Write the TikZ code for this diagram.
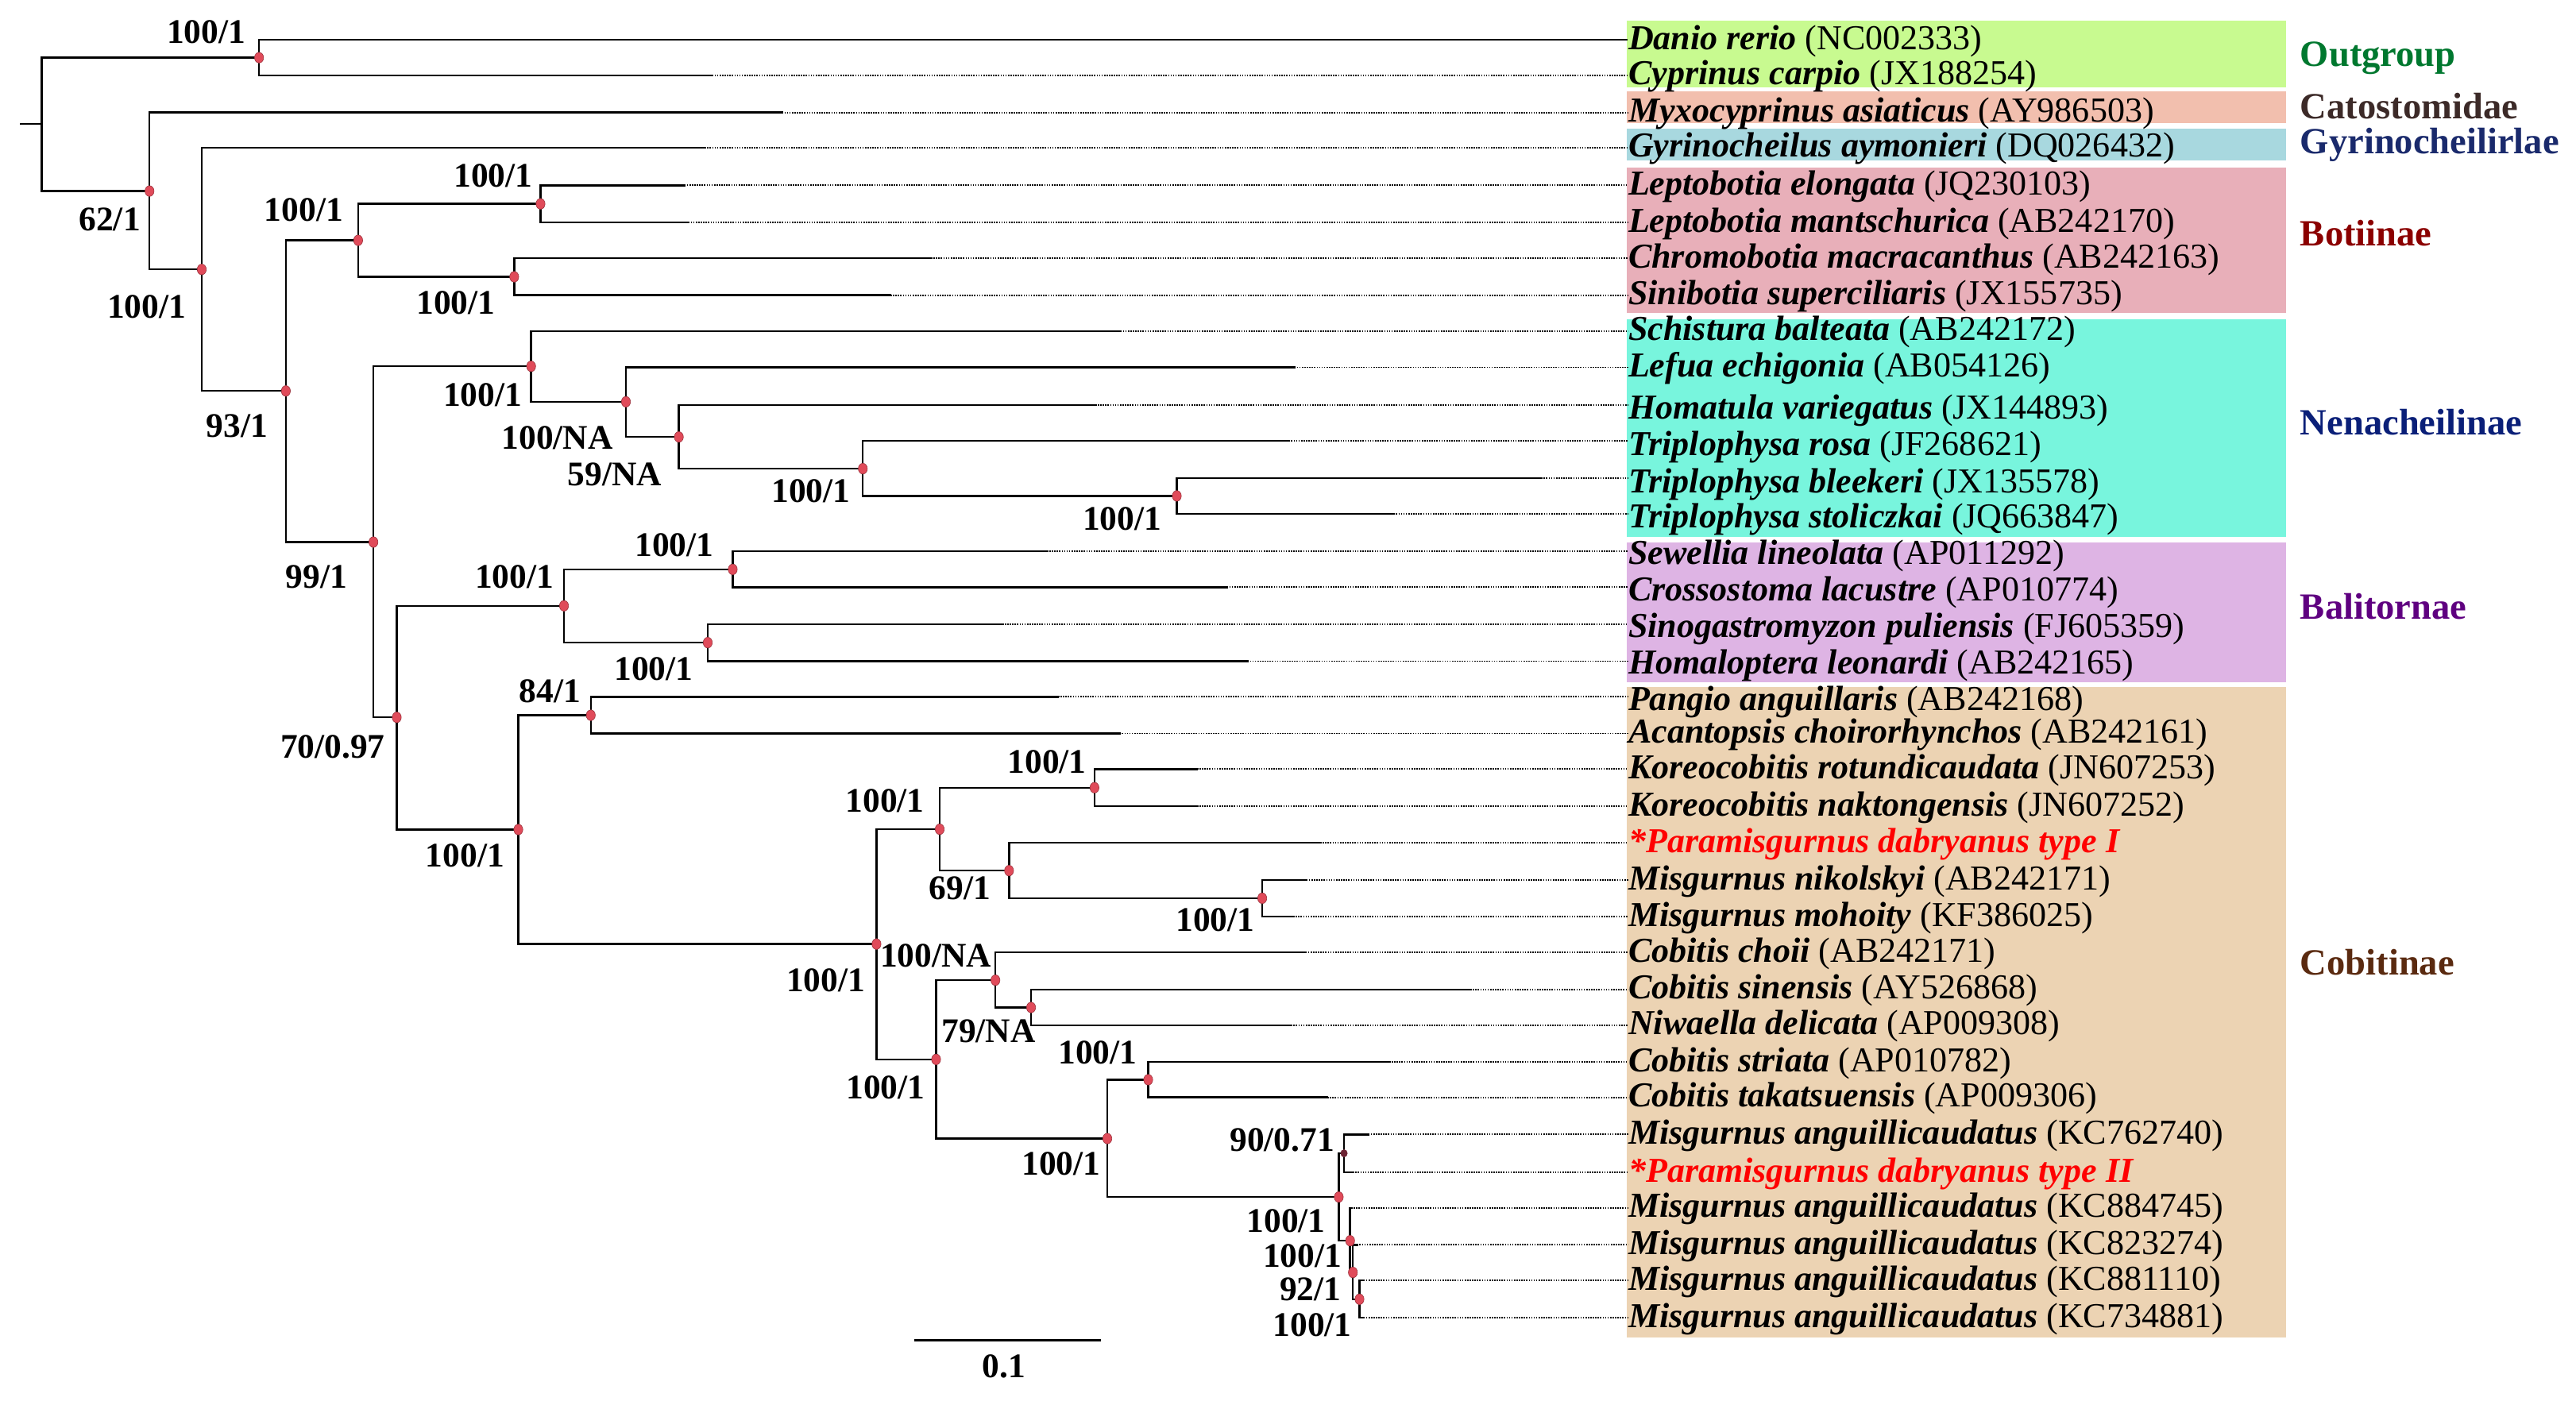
\documentclass[tikz,border=0pt]{standalone}
\usepackage{fontspec}
\usetikzlibrary{shapes.geometric}
\setmainfont{Liberation Serif}
\definecolor{fOut}{RGB}{200,250,144}
\definecolor{fCat}{RGB}{242,191,174}
\definecolor{fGyr}{RGB}{168,216,223}
\definecolor{fBot}{RGB}{232,175,185}
\definecolor{fNen}{RGB}{120,245,221}
\definecolor{fBal}{RGB}{222,180,228}
\definecolor{fCob}{RGB}{236,211,179}
\definecolor{cOut}{RGB}{0,120,47}
\definecolor{cCat}{RGB}{60,42,40}
\definecolor{cGyr}{RGB}{26,42,108}
\definecolor{cBot}{RGB}{139,0,0}
\definecolor{cNen}{RGB}{10,31,120}
\definecolor{cBal}{RGB}{95,0,128}
\definecolor{cCob}{RGB}{90,42,16}
\definecolor{dotred}{RGB}{224,75,90}
\definecolor{dotdark}{RGB}{107,35,51}
\begin{document}
\begin{tikzpicture}[x=1pt,y=-1pt,
  branch/.style={black,line width=1.2pt,line cap=rect},
  guide/.style={black,line width=0.9pt,dash pattern=on 0.8pt off 0.7pt},
  dotnode/.style={ellipse,fill=dotred,draw=dotred!70!black,line width=0.3pt,inner sep=0pt,minimum width=5.5pt,minimum height=6.5pt},
  sup/.style={inner sep=0pt,font=\fontsize{21}{24}\selectfont\bfseries},
  taxon/.style={anchor=west,inner sep=0pt,font=\fontsize{21.3}{24}\selectfont},
  grp/.style={anchor=west,inner sep=0pt,font=\fontsize{22.5}{26}\selectfont\bfseries}]
\useasboundingbox (0,0) rectangle (1568,855);
% colour bands
\fill[fOut] (990.2,12.6) rectangle (1391.6,53.2);
\fill[fCat] (990.2,55.8) rectangle (1391.6,74.8);
\fill[fGyr] (990.2,78.5) rectangle (1391.6,97.5);
\fill[fBot] (990.2,102.2) rectangle (1391.6,190.7);
\fill[fNen] (990.2,194.2) rectangle (1391.6,326.9);
\fill[fBal] (990.2,330.4) rectangle (1391.6,415.5);
\fill[fCob] (990.2,418) rectangle (1391.6,814);
% internal nodes
\coordinate (stub) at (12.9,75.3);
\coordinate (root) at (25.4,75.3);
\coordinate (nOut) at (157.7,35.1);
\coordinate (n62) at (91,116.3);
\coordinate (nA) at (122.8,164);
\coordinate (n93) at (174,238);
\coordinate (nBot) at (218,146.3);
\coordinate (nLep) at (329,124.1);
\coordinate (nChr) at (313,168.5);
\coordinate (n99) at (227.3,330);
\coordinate (nNen) at (323.3,223);
\coordinate (nNAa) at (381,244.6);
\coordinate (n59) at (413.2,266);
\coordinate (nTri) at (525.2,285.3);
\coordinate (nTrb) at (716.3,301.9);
\coordinate (n70) at (241.5,436.7);
\coordinate (nBal) at (343.3,368.8);
\coordinate (nSew) at (446,346.6);
\coordinate (nSin) at (430.8,391.2);
\coordinate (nCob) at (315.5,505);
\coordinate (n84) at (359.6,435.4);
\coordinate (nCb) at (533.5,574.7);
\coordinate (nKM) at (572,504.8);
\coordinate (nKor) at (666.2,479.5);
\coordinate (n69) at (614.2,530);
\coordinate (nMis) at (768.3,546.8);
\coordinate (nNAb) at (605.9,596.7);
\coordinate (n79) at (627.6,613.3);
\coordinate (nCc) at (569.8,644.9);
\coordinate (nStr) at (698.9,657.3);
\coordinate (nCM) at (674,693.1);
\coordinate (nMA) at (814.9,728.7);
\coordinate (nMB) at (818.1,702.1);
\coordinate (nMC) at (821.8,755.3);
\coordinate (nMD) at (823.5,774.6);
\coordinate (nME) at (827.5,790.9);
% leaf ends of solid branches
\coordinate (s1) at (990,24.2);
\coordinate (s2) at (433.5,45.9);
\coordinate (s3) at (476,68.5);
\coordinate (s4) at (429,89.9);
\coordinate (s5) at (416.6,112.8);
\coordinate (s6) at (419,135.4);
\coordinate (s7) at (566.7,157.2);
\coordinate (s8) at (542,179.7);
\coordinate (s9) at (682,201.5);
\coordinate (s10) at (787.9,223.6);
\coordinate (s11) at (666.7,246.6);
\coordinate (s12) at (784.4,268.4);
\coordinate (s13) at (938.1,291);
\coordinate (s14) at (848.2,312.7);
\coordinate (s15) at (637.2,335.6);
\coordinate (s16) at (746.8,357.5);
\coordinate (s17) at (610.1,379.9);
\coordinate (s18) at (759.3,402.5);
\coordinate (s19) at (644,424.2);
\coordinate (s20) at (681.4,446.5);
\coordinate (s21) at (728.6,468.2);
\coordinate (s22) at (728.6,490.8);
\coordinate (s23) at (803.6,512.9);
\coordinate (s24) at (795.2,535.6);
\coordinate (s25) at (787.2,558);
\coordinate (s26) at (794.7,579.8);
\coordinate (s27) at (895,602.5);
\coordinate (s28) at (785.8,624.1);
\coordinate (s29) at (845.6,646.5);
\coordinate (s30) at (808,668);
\coordinate (s31) at (832.9,690.6);
\coordinate (s32) at (823.5,713.6);
\coordinate (s33) at (822.5,735.3);
\coordinate (s34) at (826,757.8);
\coordinate (s35) at (830,779.5);
\coordinate (s36) at (830,802.2);
% taxon labels
\node[taxon] (L1) at (991,24.9) {\textbf{\textit{Danio rerio}} (NC002333)};
\node[taxon] (L2) at (991,46.6) {\textbf{\textit{Cyprinus carpio}} (JX188254)};
\node[taxon] (L3) at (991,69.2) {\textbf{\textit{Myxocyprinus asiaticus}} (AY986503)};
\node[taxon] (L4) at (991,90.6) {\textbf{\textit{Gyrinocheilus aymonieri}} (DQ026432)};
\node[taxon] (L5) at (991,113.5) {\textbf{\textit{Leptobotia elongata}} (JQ230103)};
\node[taxon] (L6) at (991,136.1) {\textbf{\textit{Leptobotia mantschurica}} (AB242170)};
\node[taxon] (L7) at (991,157.9) {\textbf{\textit{Chromobotia macracanthus}} (AB242163)};
\node[taxon] (L8) at (991,180.4) {\textbf{\textit{Sinibotia superciliaris}} (JX155735)};
\node[taxon] (L9) at (991,202.2) {\textbf{\textit{Schistura balteata}} (AB242172)};
\node[taxon] (L10) at (991,224.3) {\textbf{\textit{Lefua echigonia}} (AB054126)};
\node[taxon] (L11) at (991,250) {\textbf{\textit{Homatula variegatus}} (JX144893)};
\node[taxon] (L12) at (991,272) {\textbf{\textit{Triplophysa rosa}} (JF268621)};
\node[taxon] (L13) at (991,295) {\textbf{\textit{Triplophysa bleekeri}} (JX135578)};
\node[taxon] (L14) at (991,316.2) {\textbf{\textit{Triplophysa stoliczkai}} (JQ663847)};
\node[taxon] (L15) at (991,338.5) {\textbf{\textit{Sewellia lineolata}} (AP011292)};
\node[taxon] (L16) at (991,360.5) {\textbf{\textit{Crossostoma lacustre}} (AP010774)};
\node[taxon] (L17) at (991,383) {\textbf{\textit{Sinogastromyzon puliensis}} (FJ605359)};
\node[taxon] (L18) at (991,405) {\textbf{\textit{Homaloptera leonardi}} (AB242165)};
\node[taxon] (L19) at (991,427.5) {\textbf{\textit{Pangio anguillaris}} (AB242168)};
\node[taxon] (L20) at (991,447) {\textbf{\textit{Acantopsis choirorhynchos}} (AB242161)};
\node[taxon] (L21) at (991,469) {\textbf{\textit{Koreocobitis rotundicaudata}} (JN607253)};
\node[taxon] (L22) at (991,491.5) {\textbf{\textit{Koreocobitis naktongensis}} (JN607252)};
\node[taxon,text=red] (L23) at (991,514) {\textbf{\textit{*Paramisgurnus dabryanus type I}}};
\node[taxon] (L24) at (991,536.5) {\textbf{\textit{Misgurnus nikolskyi}} (AB242171)};
\node[taxon] (L25) at (991,559) {\textbf{\textit{Misgurnus mohoity}} (KF386025)};
\node[taxon] (L26) at (991,580.5) {\textbf{\textit{Cobitis choii}} (AB242171)};
\node[taxon] (L27) at (991,603) {\textbf{\textit{Cobitis sinensis}} (AY526868)};
\node[taxon] (L28) at (991,624.8) {\textbf{\textit{Niwaella delicata}} (AP009308)};
\node[taxon] (L29) at (991,647.2) {\textbf{\textit{Cobitis striata}} (AP010782)};
\node[taxon] (L30) at (991,668.7) {\textbf{\textit{Cobitis takatsuensis}} (AP009306)};
\node[taxon] (L31) at (991,691.3) {\textbf{\textit{Misgurnus anguillicaudatus}} (KC762740)};
\node[taxon,text=red] (L32) at (991,714.5) {\textbf{\textit{*Paramisgurnus dabryanus type II}}};
\node[taxon] (L33) at (991,736) {\textbf{\textit{Misgurnus anguillicaudatus}} (KC884745)};
\node[taxon] (L34) at (991,758.5) {\textbf{\textit{Misgurnus anguillicaudatus}} (KC823274)};
\node[taxon] (L35) at (991,780.2) {\textbf{\textit{Misgurnus anguillicaudatus}} (KC881110)};
\node[taxon] (L36) at (991,802.9) {\textbf{\textit{Misgurnus anguillicaudatus}} (KC734881)};
% group labels
\node[grp,text=cOut] (gOut) at (1400,35.5) {Outgroup};
\node[grp,text=cCat] (gCat) at (1400,64.5) {Catostomidae};
\node[grp,text=cGyr] (gGyr) at (1400,88) {Gyrinocheilirlae};
\node[grp,text=cBot] (gBot) at (1400,141.9) {Botiinae};
\node[grp,text=cNen] (gNen) at (1400,257) {Nenacheilinae};
\node[grp,text=cBal] (gBal) at (1400,369) {Balitornae};
\node[grp,text=cCob] (gCob) at (1400,586) {Cobitinae};
% dotted guides
\foreach \i in {2,...,36} \draw[guide] (s\i) -- (s\i -| L\i.west);
% branches
\draw[branch] (stub) -- (root);
\foreach \p/\c in {root/nOut,root/n62,nOut/s1,nOut/s2,n62/s3,n62/nA,nA/s4,nA/n93,
  n93/nBot,n93/n99,nBot/nLep,nBot/nChr,nLep/s5,nLep/s6,nChr/s7,nChr/s8,
  n99/nNen,n99/n70,nNen/s9,nNen/nNAa,nNAa/s10,nNAa/n59,n59/s11,n59/nTri,
  nTri/s12,nTri/nTrb,nTrb/s13,nTrb/s14,n70/nBal,n70/nCob,nBal/nSew,nBal/nSin,
  nSew/s15,nSew/s16,nSin/s17,nSin/s18,nCob/n84,nCob/nCb,n84/s19,n84/s20,
  nCb/nKM,nCb/nCc,nKM/nKor,nKM/n69,nKor/s21,nKor/s22,n69/s23,n69/nMis,
  nMis/s24,nMis/s25,nCc/nNAb,nCc/nCM,nNAb/s26,nNAb/n79,n79/s27,n79/s28,
  nCM/nStr,nCM/nMA,nStr/s29,nStr/s30,nMA/nMB,nMA/nMC,nMB/s31,nMB/s32,
  nMC/s33,nMC/nMD,nMD/s34,nMD/nME,nME/s35,nME/s36}
  \draw[branch] (\p) |- (\c);
% node dots
\foreach \n in {nOut,n62,nA,n93,nBot,nLep,nChr,n99,nNen,nNAa,n59,nTri,nTrb,n70,
  nBal,nSew,nSin,nCob,n84,nCb,nKM,nKor,n69,nMis,nNAb,n79,nCc,nStr,nCM,nMA,nMC,nMD,nME}
  \node[dotnode] (d\n) at (\n) {};
\node[dotnode,fill=dotdark,draw=dotdark,minimum width=4pt,minimum height=4.5pt] (dnMB) at (nMB) {};
% support values
\node[sup] (vOut) at (125.5,19.7) {100/1};
\node[sup] (v62) at (66.8,133.5) {62/1};
\node[sup] (vA) at (89.2,186.7) {100/1};
\node[sup] (v93) at (144.2,259.3) {93/1};
\node[sup] (vBot) at (184.9,127.8) {100/1};
\node[sup] (vLep) at (300.2,107.2) {100/1};
\node[sup] (vChr) at (277.5,184.2) {100/1};
\node[sup] (v99) at (192.7,351.2) {99/1};
\node[sup] (vNen) at (293.8,240.2) {100/1};
\node[sup] (vNAa) at (339.2,266.5) {100/NA};
\node[sup] (v59) at (374.2,288.9) {59/NA};
\node[sup] (vTri) at (493.6,298.9) {100/1};
\node[sup] (vTrb) at (683,316) {100/1};
\node[sup] (v70) at (202.5,454.5) {70/0.97};
\node[sup] (vBal) at (313.1,351.2) {100/1};
\node[sup] (vSew) at (410.5,331.8) {100/1};
\node[sup] (vSin) at (397.9,407.1) {100/1};
\node[sup] (vCob) at (283,521) {100/1};
\node[sup] (v84) at (334.8,420.6) {84/1};
\node[sup] (vKor) at (637.3,463.9) {100/1};
\node[sup] (vKM) at (538.7,487.6) {100/1};
\node[sup] (v69) at (584.3,540.8) {69/1};
\node[sup] (vMis) at (739.7,560.1) {100/1};
\node[sup] (vNAb) at (569.6,581.6) {100/NA};
\node[sup] (vCb) at (502.7,596.7) {100/1};
\node[sup] (v79) at (601.7,627.8) {79/NA};
\node[sup] (vCc) at (539,662) {100/1};
\node[sup] (vStr) at (668.1,640.7) {100/1};
\node[sup] (vCM) at (645.9,708.4) {100/1};
\node[sup] (vMB) at (780.4,693.9) {90/0.71};
\node[sup] (vMA) at (782.8,743.1) {100/1};
\node[sup] (vMC) at (792.7,764.4) {100/1};
\node[sup] (vMD) at (797.6,784.7) {92/1};
\node[sup] (vME) at (798.8,806.4) {100/1};
% scale bar
\coordinate (sbA) at (557,816);
\coordinate (sbB) at (669.3,816);
\draw[branch] (sbA) -- (sbB);
\node[sup] (sbL) at (611,832) {0.1};
\end{tikzpicture}
\end{document}
